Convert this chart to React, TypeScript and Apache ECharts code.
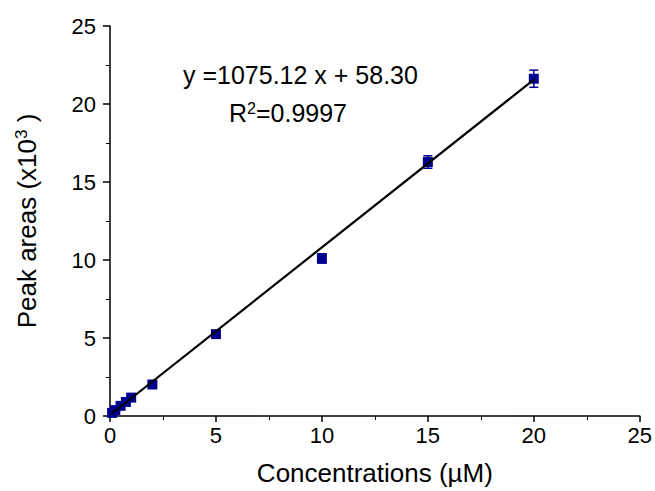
import React, { useEffect, useRef } from "react";
import * as echarts from "echarts";

const concentrations = [0.1, 0.25, 0.5, 0.75, 1, 2, 5, 10, 15, 20];
const peakAreas = [0.2, 0.38, 0.65, 0.9, 1.18, 2.02, 5.25, 10.1, 16.28, 21.62];
const errors = [0.05, 0.05, 0.06, 0.06, 0.08, 0.1, 0.15, 0.3, 0.4, 0.55];
const fitX = [0.05, 20];
const fitY = [0.112, 21.56];
const equationText = "y =1075.12 x + 58.30";
const r2Text = "R{sup|2}=0.9997";
const xTitle = "Concentrations (\u00B5M)";
const yTitle = "Peak areas (x10{sup|3} )";

const FONT = "'Liberation Sans', Arial, sans-serif";
const BLUE = "#00008f";

export default function App() {
  const ref = useRef<HTMLDivElement>(null);
  useEffect(() => {
    document.body.style.margin = "0";
    const chart = echarts.init(ref.current!, null, { renderer: "svg" });
    const points = concentrations.map((x, i) => [x, peakAreas[i]]);
    const errData = concentrations.map((x, i) => [x, peakAreas[i] - errors[i], peakAreas[i] + errors[i]]);
    const fitData = fitX.map((x, i) => [x, fitY[i]]);
    chart.setOption({
      animation: false,
      textStyle: { fontFamily: FONT, color: "#000" },
      grid: { left: 110, right: 15, top: 26, bottom: 73, containLabel: false },
      xAxis: {
        type: "value",
        min: 0,
        max: 25,
        interval: 5,
        name: xTitle,
        nameLocation: "middle",
        nameGap: 44,
        nameTextStyle: { fontSize: 26, color: "#000", fontFamily: FONT },
        axisLine: { show: true, onZero: false, lineStyle: { color: "#000", width: 1.5 } },
        axisTick: { show: true, inside: false, length: 6, lineStyle: { color: "#000", width: 1.5 } },
        minorTick: { show: true, splitNumber: 2, length: 4, lineStyle: { color: "#000", width: 1 } },
        splitLine: { show: false },
        axisLabel: { fontSize: 22, color: "#000", margin: 8, fontFamily: FONT },
      },
      yAxis: {
        type: "value",
        min: 0,
        max: 25,
        interval: 5,
        name: yTitle,
        nameLocation: "middle",
        nameGap: 70,
        nameTextStyle: {
          fontSize: 26,
          color: "#000",
          fontFamily: FONT,
          rich: { sup: { fontSize: 17, verticalAlign: "top", fontFamily: FONT, color: "#000", padding: [0, 0, 10, 0] } },
        },
        axisLine: { show: true, onZero: false, lineStyle: { color: "#000", width: 1.5 } },
        axisTick: { show: true, inside: false, length: 7, lineStyle: { color: "#000", width: 1.5 } },
        minorTick: { show: true, splitNumber: 2, length: 4, lineStyle: { color: "#000", width: 1 } },
        splitLine: { show: false },
        axisLabel: { fontSize: 22, color: "#000", margin: 14, fontFamily: FONT },
      },
      graphic: [
        {
          type: "text",
          left: 183,
          top: 62,
          style: { text: equationText, fontSize: 25, fill: "#000", fontFamily: FONT },
        },
        {
          type: "text",
          left: 229,
          top: 100,
          style: {
            text: r2Text,
            fontSize: 25,
            fill: "#000",
            fontFamily: FONT,
            rich: { sup: { fontSize: 16, verticalAlign: "top", fontFamily: FONT, fill: "#000", padding: [0, 0, 10, 0] } },
          },
        },
      ],
      series: [
        {
          type: "custom",
          z: 2,
          data: errData,
          renderItem: (params: any, api: any) => {
            const x = api.value(0);
            const lo = api.coord([x, api.value(1)]);
            const hi = api.coord([x, api.value(2)]);
            const cap = 4.5;
            const style = { stroke: BLUE, lineWidth: 1.5 };
            return {
              type: "group",
              children: [
                { type: "line", shape: { x1: lo[0], y1: lo[1], x2: hi[0], y2: hi[1] }, style },
                { type: "line", shape: { x1: lo[0] - cap, y1: lo[1], x2: lo[0] + cap, y2: lo[1] }, style },
                { type: "line", shape: { x1: hi[0] - cap, y1: hi[1], x2: hi[0] + cap, y2: hi[1] }, style },
              ],
            };
          },
        },
        {
          type: "scatter",
          z: 3,
          data: points,
          symbol: "rect",
          symbolSize: 10,
          itemStyle: { color: BLUE, opacity: 1 },
        },
        {
          type: "line",
          z: 4,
          data: fitData,
          showSymbol: false,
          symbol: "none",
          lineStyle: { color: "#000", width: 2.2 },
        },
      ],
    });
    return () => chart.dispose();
  }, []);
  return <div ref={ref} style={{ width: 655, height: 491 }} />;
}
